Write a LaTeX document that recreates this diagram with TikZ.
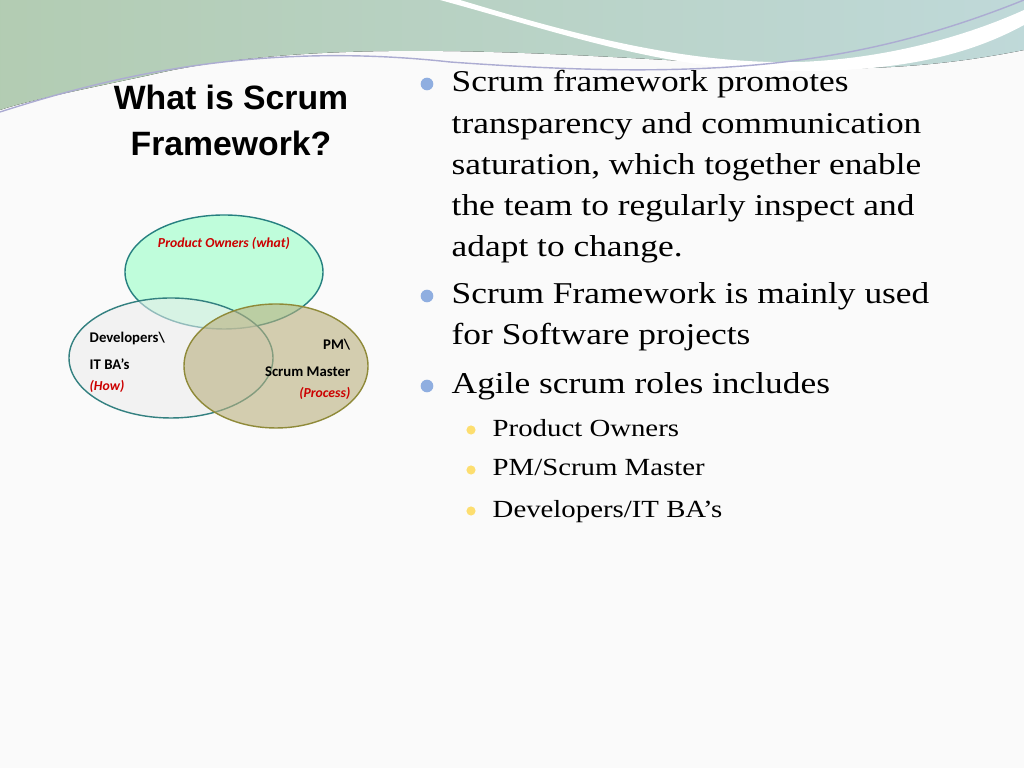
\documentclass[tikz,border=0pt]{standalone}
\usepackage{fontspec}
\setmainfont[FakeStretch=1.17]{Liberation Serif}
\newfontfamily\ttlfont{Liberation Sans}
\newfontfamily\calfont{Carlito}
\begin{document}
\begin{tikzpicture}[x={(0.01cm,0)},y={(0,-0.01cm)},
 body/.style={anchor=north west,font=\fontsize{8.6}{11.7}\selectfont,align=left,inner sep=0},
 sub/.style={anchor=north west,font=\fontsize{7}{11.7}\selectfont,inner sep=0},
 bul/.style={circle,fill=cyan!50!blue!45!white,inner sep=0,minimum size=3.6pt},
 sbul/.style={circle,fill=yellow!60!orange!55!white,inner sep=0,minimum size=2.6pt},
 venn/.style={font=\calfont\bfseries\fontsize{4.2}{6}\selectfont,inner sep=0},
 vred/.style={inner sep=0,text=red!80!black,font=\calfont\bfseries\itshape\fontsize{3.9}{5.5}\selectfont}]
\fill[white!96!gray] (0,0) rectangle (1024,768);
\useasboundingbox (0,0) rectangle (1024,768);
% top wave
\fill[left color=green!20!gray!50,right color=cyan!25!gray!40] (0,0) -- (1024,0) -- (1024,50)
 .. controls (900,75) and (800,70) .. (700,62) .. controls (500,50) and (300,40) .. (150,75)
 .. controls (80,90) and (30,100) .. (0,110) -- cycle;
\fill[white] (460,0) .. controls (560,30) and (680,65) .. (800,62) .. controls (900,58) and (980,30) .. (1024,10)
 -- (1024,25) .. controls (960,60) and (880,75) .. (760,70) .. controls (650,65) and (550,30) .. (440,0) -- cycle;
\draw[blue!30!gray!50,thin] (0,112) .. controls (100,80) and (250,40) .. (450,62) .. controls (700,80) and (850,70) .. (1024,0);
\node[font=\ttlfont\bfseries\fontsize{9.6}{13}\selectfont,align=center,anchor=north] (title) at (231,73) {What is Scrum\\Framework?};
% venn
\draw[fill=green!55!cyan!35,fill opacity=0.7,draw=teal!70!gray] (224,272) ellipse [x radius=99,y radius=57];
\draw[fill=gray!15,fill opacity=0.55,draw=teal!60!gray] (171,358) ellipse [x radius=102,y radius=60];
\draw[fill=olive!60!brown!55!gray!70,fill opacity=0.6,draw=olive!60!gray] (276,366) ellipse [x radius=92,y radius=62];
\node[vred] (po) at (224,243) {Product Owners (what)};
\node[venn,anchor=west,align=left] (dev) at (89,351) {Developers\textbackslash\\[1.5pt]IT BA’s};
\node[vred,anchor=west] (how) at (89,386) {(How)};
\node[venn,anchor=east,align=right] (pm) at (351,358) {PM\textbackslash\\[1.5pt]Scrum Master};
\node[vred,anchor=east] (proc) at (351,393) {(Process)};
% text
\node[bul] (b1) at (427,84) {};
\node[body] (t1) at (451,70) {Scrum framework promotes\\transparency and communication\\saturation, which together enable\\the team to regularly inspect and\\adapt to change.};
\node[bul] (b2) at (427,296) {};
\node[body] (t2) at (451,282) {Scrum Framework is mainly used\\for Software projects};
\node[bul] (b3) at (427,386) {};
\node[body] (t3) at (451,372) {Agile scrum roles includes};
\node[sbul] (s1) at (471,430) {};
\node[sub] (u1) at (492,419) {Product Owners};
\node[sbul] (s2) at (471,470) {};
\node[sub] (u2) at (492,459) {PM/Scrum Master};
\node[sbul] (s3) at (471,511) {};
\node[sub] (u3) at (492,500) {Developers/IT BA’s};
\end{tikzpicture}
\end{document}
